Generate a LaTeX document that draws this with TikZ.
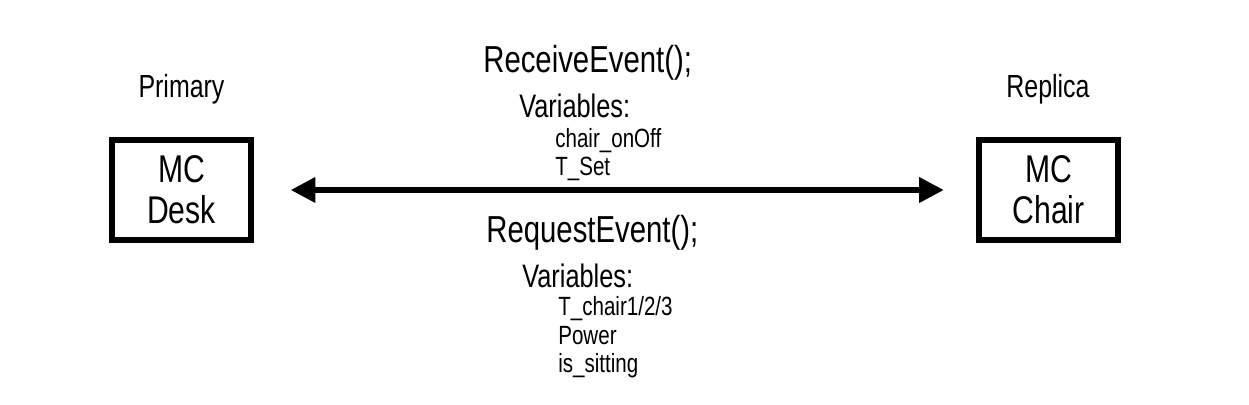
\documentclass[tikz,border=0pt]{standalone}
\usepackage{fontspec}
\setmainfont{Liberation Sans}[FakeStretch=0.78]
\usetikzlibrary{arrows.meta}

\begin{document}
\begin{tikzpicture}[x=0.02cm,y=-0.02cm,
mc/.style={draw, line width=3.2pt, minimum width=2.78cm, minimum height=2cm, align=center, inner sep=0pt, font=\fontsize{22}{23.5}\selectfont},
role/.style={inner sep=0pt, anchor=base, font=\fontsize{18.2}{20}\selectfont},
event/.style={inner sep=0pt, anchor=base west, font=\fontsize{21.4}{24}\selectfont},
vars/.style={inner sep=0pt, anchor=base west, font=\fontsize{18.5}{20}\selectfont},
var/.style={inner sep=0pt, anchor=base west, font=\fontsize{15}{16}\selectfont},
tip/.style={Triangle[length=14pt,width=14pt]}]
\useasboundingbox (0,0) rectangle (1249,405);
\node[mc] (desk) at (181.5,190) {MC\\Desk};
\node[mc] (chair) at (1048.5,190) {MC\\Chair};
\node[role] (primary) at (181.5,98) {Primary};
\node[role] (replica) at (1048,98) {Replica};
\path[draw,line width=2.9pt,{Triangle[length=14pt,width=14pt]}-{Triangle[length=14pt,width=14pt]},shorten <=0.74cm,shorten >=0.65cm] (desk) -- (chair);
\node[event] (recv) at (483,73) {ReceiveEvent();};
\node[vars] (recvvars) at (519,118) {Variables:};
\node[var] (onoff) at (555,148) {chair\_onOff};
\node[var] (tset) at (555,176) {T\_Set};
\node[event] (req) at (486,243) {RequestEvent();};
\node[vars] (reqvars) at (522,288) {Variables:};
\node[var] (tchair) at (558,316) {T\_chair1/2/3};
\node[var] (power) at (558,345) {Power};
\node[var] (sit) at (558,373) {is\_sitting};
\end{tikzpicture}
\end{document}
